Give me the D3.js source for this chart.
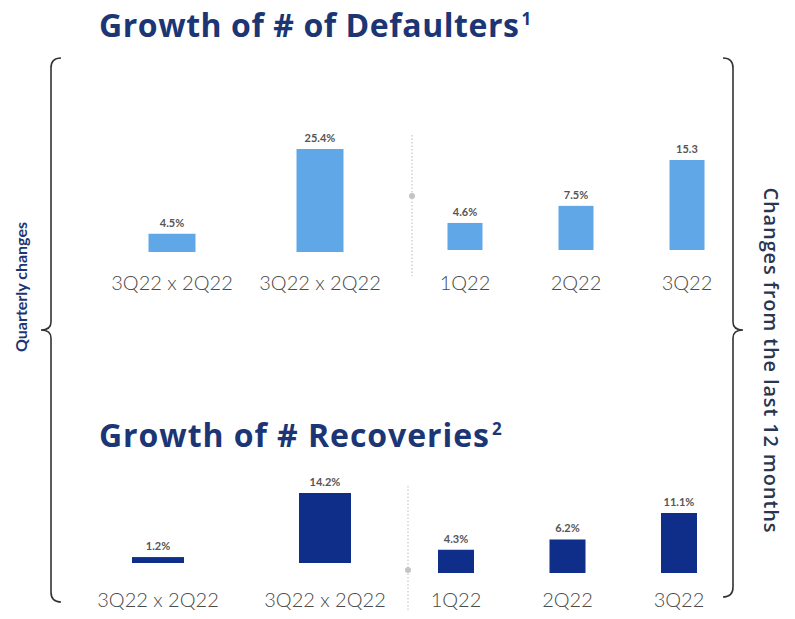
<!DOCTYPE html>
<html>
<head>
<meta charset="utf-8">
<script src="https://cdn.jsdelivr.net/npm/d3@7"></script>
<style>
  body { margin: 0; background: #fff; }
</style>
</head>
<body>
<div id="chart"></div>
<script>
const quarterCats = ['3Q22 x 2Q22', '3Q22 x 2Q22'];
const yearCats = ['1Q22', '2Q22', '3Q22'];

const defaultQuarter = [4.5, 25.4];
const defaultYear = [4.6, 7.5, 15.3];
const defaultQuarterLabels = ['4.5%', '25.4%'];
const defaultYearLabels = ['4.6%', '7.5%', '15.3'];

const recoveryQuarter = [1.2, 14.2];
const recoveryYear = [4.3, 6.2, 11.1];
const recoveryQuarterLabels = ['1.2%', '14.2%'];
const recoveryYearLabels = ['4.3%', '6.2%', '11.1%'];

const width = 795;
const height = 619;
const navy = '#1c3675';
const light = '#60a7e8';
const dark = '#0e2e8a';

const svg = d3.select('#chart')
  .append('svg')
  .attr('width', width)
  .attr('height', height)
  .style('font-family', 'Lato, "Open Sans", sans-serif');

// titles
function title(y, main, sup, len) {
  const t = svg.append('text')
    .attr('x', 99).attr('y', y)
    .attr('fill', navy)
    .attr('font-family', '"Open Sans", sans-serif')
    .attr('font-size', 32)
    .attr('font-weight', 700);
  t.append('tspan').attr('textLength', len).text(main);
  t.append('tspan').attr('font-size', 17).attr('dx', 2).attr('dy', -12).text(sup);
}
title(37, 'Growth of # of Defaulters', '1', 420);
title(447, 'Growth of # Recoveries', '2', 390);

// one group of bars
function group(cats, vals, labels, xr, base, topY, maxV, barW, color, labelY) {
  const x = d3.scalePoint().domain(d3.range(cats.length)).range(xr);
  const y = d3.scaleLinear().domain([0, maxV]).range([base, topY]);
  const g = svg.append('g');

  g.selectAll('rect')
    .data(vals)
    .join('rect')
    .attr('x', (d, i) => x(i) - barW / 2)
    .attr('y', d => y(d))
    .attr('width', barW)
    .attr('height', d => y(0) - y(d))
    .attr('fill', color);

  g.selectAll('.val')
    .data(vals)
    .join('text')
    .attr('class', 'val')
    .attr('x', (d, i) => x(i))
    .attr('y', d => y(d) - 7)
    .attr('text-anchor', 'middle')
    .attr('font-size', 11)
    .attr('font-weight', 700)
    .attr('fill', '#555')
    .text((d, i) => labels[i]);

  g.selectAll('.cat')
    .data(cats)
    .join('text')
    .attr('class', 'cat')
    .attr('x', (d, i) => x(i))
    .attr('y', labelY)
    .attr('text-anchor', 'middle')
    .attr('font-size', 20)
    .attr('font-weight', 300)
    .attr('fill', '#4a4a4a')
    .text(d => d);
}

group(quarterCats, defaultQuarter, defaultQuarterLabels, [172, 320], 252, 149, 25.4, 47, light, 290);
group(yearCats, defaultYear, defaultYearLabels, [465, 687], 250, 160, 15.3, 35, light, 290);
group(quarterCats, recoveryQuarter, recoveryQuarterLabels, [158, 325], 563, 493, 14.2, 52, dark, 607);
group(yearCats, recoveryYear, recoveryYearLabels, [456, 679], 573, 513, 11.1, 36, dark, 607);

// dotted separators
function sep(x, y0, y1, dotY) {
  svg.append('line')
    .attr('x1', x).attr('x2', x).attr('y1', y0).attr('y2', y1)
    .attr('stroke', '#bbb').attr('stroke-width', 1)
    .attr('stroke-dasharray', '1.5,2');
  svg.append('circle').attr('cx', x).attr('cy', dotY).attr('r', 3).attr('fill', '#c4c4c4');
}
sep(412, 135, 276, 196);
sep(408, 486, 612, 570);

// braces
function brace(x, y0, y1, mid, dir) {
  const c = 10 * dir;
  const p = d3.path();
  p.moveTo(x + c, y0);
  p.quadraticCurveTo(x, y0, x, y0 + 10);
  p.lineTo(x, mid - 8);
  p.quadraticCurveTo(x, mid, x - c, mid);
  p.quadraticCurveTo(x, mid, x, mid + 8);
  p.lineTo(x, y1 - 10);
  p.quadraticCurveTo(x, y1, x + c, y1);
  svg.append('path')
    .attr('d', p.toString())
    .attr('fill', 'none')
    .attr('stroke', '#333')
    .attr('stroke-width', 1.6);
}
brace(51, 58, 602, 330, 1);
brace(733, 58, 597, 330, -1);

svg.append('text')
  .attr('transform', 'translate(27,287) rotate(-90)')
  .attr('text-anchor', 'middle')
  .attr('font-size', 16)
  .attr('font-weight', 700)
  .attr('fill', navy)
  .text('Quarterly changes');

svg.append('text')
  .attr('transform', 'translate(764,360) rotate(90)')
  .attr('text-anchor', 'middle')
  .attr('font-family', '"Open Sans", sans-serif')
  .attr('font-size', 20)
  .attr('font-weight', 600)
  .attr('fill', '#2a3550')
  .attr('textLength', 345)
  .text('Changes from the last 12 months');
</script>
</body>
</html>
